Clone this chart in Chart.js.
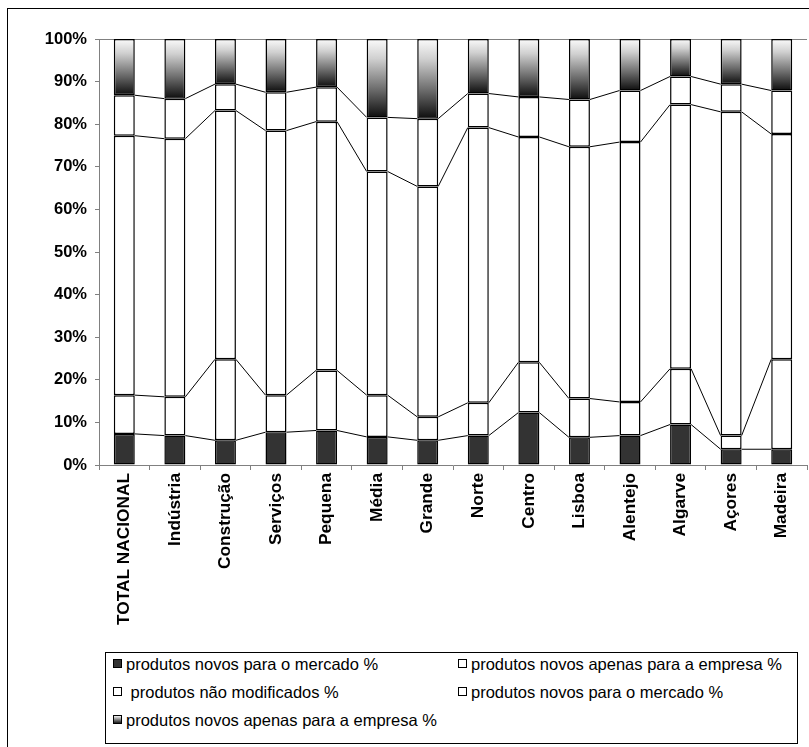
<!DOCTYPE html>
<html>
<head>
<meta charset="utf-8">
<script src="https://cdn.jsdelivr.net/npm/chart.js@4/dist/chart.umd.min.js"></script>
<style>
  html, body { margin: 0; padding: 0; background: #fff; overflow: hidden; }
  #wrap { position: relative; width: 809px; height: 747px; }
  #frame { position: absolute; left: 7px; top: 8px; width: 840px; height: 780px;
           border-left: 1px solid #000; border-top: 1px solid #000; box-sizing: border-box; }
  canvas { position: absolute; left: 0; top: 0; }
  #legend { position: absolute; left: 105px; top: 652px; width: 693px; height: 92px;
            border: 1px solid #000; box-sizing: border-box; background: #fff;
            font-family: "Liberation Sans", Arial, sans-serif; font-size: 16.5px; color: #000; }
  .item { position: absolute; white-space: pre; line-height: 20px; height: 20px; }
  .mk { position: absolute; left: 0; top: 5px; width: 9px; height: 9px; border: 1px solid #000; box-sizing: border-box; }
  .tx { position: absolute; left: 13px; top: 0; }
</style>
</head>
<body>
<div id="wrap">
  <div id="frame"></div>
  <canvas id="c" width="809" height="747"></canvas>
  <div id="legend"></div>
</div>
<script>
// Regions / company groups on the category axis
const categories = ['TOTAL NACIONAL', 'Indústria', 'Construção', 'Serviços', 'Pequena', 'Média', 'Grande',
                    'Norte', 'Centro', 'Lisboa', 'Alentejo', 'Algarve', 'Açores', 'Madeira'];

// Share of turnover by product type (%), bottom to top of each column
const novosMercado     = [7.3, 6.9, 5.8, 7.7, 8.1, 6.6, 5.8, 6.9, 12.3, 6.5, 6.9, 9.5, 3.7, 3.7];
const novosEmpresa     = [9.1, 9.1, 19.0, 8.7, 14.1, 9.8, 5.5, 7.7, 11.8, 9.1, 7.9, 13.1, 3.2, 21.1];
const naoModificados   = [60.9, 60.6, 58.4, 62.1, 58.4, 52.5, 54.1, 64.6, 52.9, 59.1, 61.0, 62.0, 76.0, 52.9];
const novosMercado2    = [9.5, 9.4, 6.2, 9.0, 8.1, 12.7, 15.9, 8.0, 9.4, 11.1, 12.1, 6.6, 6.5, 10.2];
const novosEmpresa2    = [13.2, 14.0, 10.6, 12.5, 11.3, 18.4, 18.7, 12.8, 13.6, 14.2, 12.1, 8.8, 10.6, 12.1];

const seriesLabels = ['produtos novos para o mercado %', 'produtos novos apenas para a empresa %',
                      ' produtos não modificados %', 'produtos novos para o mercado %',
                      'produtos novos apenas para a empresa %'];

const yTicks = [0, 10, 20, 30, 40, 50, 60, 70, 80, 90, 100];

const FONT = '"Liberation Sans", Arial, sans-serif';
const AXIS_GREY = '#808080';

// Shaded top segment: dark at its base fading to white at 100%
function shadedFill(c) {
  const chart = c.chart;
  if (!chart.chartArea || c.type !== 'data') return '#888';
  const y = chart.scales.y;
  let base = 0;
  for (let d = 0; d < 4; d++) base += chart.data.datasets[d].data[c.dataIndex];
  const g = chart.ctx.createLinearGradient(0, y.getPixelForValue(base), 0, y.getPixelForValue(100));
  g.addColorStop(0, '#0d0d0d');
  g.addColorStop(0.35, '#6a6a6a');
  g.addColorStop(0.75, '#d0d0d0');
  g.addColorStop(1, '#fbfbfb');
  return g;
}

// Connector lines between the tops of matching segments of neighbouring columns
const seriesLines = {
  id: 'seriesLines',
  afterDatasetsDraw(chart) {
    const ctx = chart.ctx;
    ctx.save();
    ctx.strokeStyle = '#000';
    ctx.lineWidth = 1;
    for (let d = 0; d < 4; d++) {
      const bars = chart.getDatasetMeta(d).data;
      for (let i = 0; i < bars.length - 1; i++) {
        const a = bars[i], b = bars[i + 1];
        ctx.beginPath();
        ctx.moveTo(a.x + a.width / 2, a.y);
        ctx.lineTo(b.x - b.width / 2, b.y);
        ctx.stroke();
      }
    }
    ctx.restore();
  }
};

// Top edge of the plot area
const plotTop = {
  id: 'plotTop',
  beforeDatasetsDraw(chart) {
    const { ctx, chartArea: a } = chart;
    ctx.save();
    ctx.strokeStyle = AXIS_GREY;
    ctx.lineWidth = 1;
    ctx.beginPath();
    ctx.moveTo(a.left, a.top + 0.5);
    ctx.lineTo(a.right, a.top + 0.5);
    ctx.stroke();
    ctx.restore();
  }
};

const fills = ['#333333', '#ffffff', '#ffffff', '#ffffff', shadedFill];
const values = [novosMercado, novosEmpresa, naoModificados, novosMercado2, novosEmpresa2];

new Chart(document.getElementById('c'), {
  type: 'bar',
  data: {
    labels: categories,
    datasets: values.map((v, i) => ({
      label: seriesLabels[i],
      data: v,
      backgroundColor: fills[i],
      borderColor: '#000',
      borderWidth: 1.5,
      borderSkipped: false,
      barPercentage: 0.415,
      categoryPercentage: 1
    }))
  },
  options: {
    responsive: false,
    animation: false,
    layout: { padding: { left: 8, right: 2, top: 39, bottom: 102 } },
    plugins: { legend: { display: false }, tooltip: { enabled: false } },
    scales: {
      x: {
        stacked: true,
        grid: { drawOnChartArea: false, tickLength: 5, color: AXIS_GREY, offset: true },
        border: { color: AXIS_GREY, width: 1 },
        ticks: { minRotation: 90, maxRotation: 90, padding: 3, color: '#000',
                 font: { family: FONT, size: 17.3, weight: 'bold' } },
        afterFit(s) { s.height = 180; }
      },
      y: {
        stacked: true,
        min: 0, max: 100,
        afterBuildTicks(s) { s.ticks = yTicks.map(v => ({ value: v })); },
        grid: { drawOnChartArea: false, tickLength: 4, color: AXIS_GREY },
        border: { color: AXIS_GREY, width: 1 },
        ticks: { padding: 8, color: '#000', callback: v => v + '%',
                 font: { family: FONT, size: 16.5, weight: 'bold' } },
        afterFit(s) { s.width = 91; }
      }
    }
  },
  plugins: [seriesLines, plotTop]
});

// Two-column legend box
const legendPos = [[7, 1], [352, 1], [7, 29], [352, 29], [7, 57]];
const swatches = ['#333333', '#ffffff', '#ffffff', '#ffffff', 'linear-gradient(to bottom, #f4f4f4, #1a1a1a)'];
const legend = document.getElementById('legend');
seriesLabels.forEach((t, i) => {
  const it = document.createElement('div');
  it.className = 'item';
  it.style.left = legendPos[i][0] + 'px';
  it.style.top = legendPos[i][1] + 'px';
  const mk = document.createElement('div');
  mk.className = 'mk';
  mk.style.background = swatches[i];
  const tx = document.createElement('span');
  tx.className = 'tx';
  tx.textContent = t;
  it.appendChild(mk);
  it.appendChild(tx);
  legend.appendChild(it);
});
</script>
</body>
</html>
